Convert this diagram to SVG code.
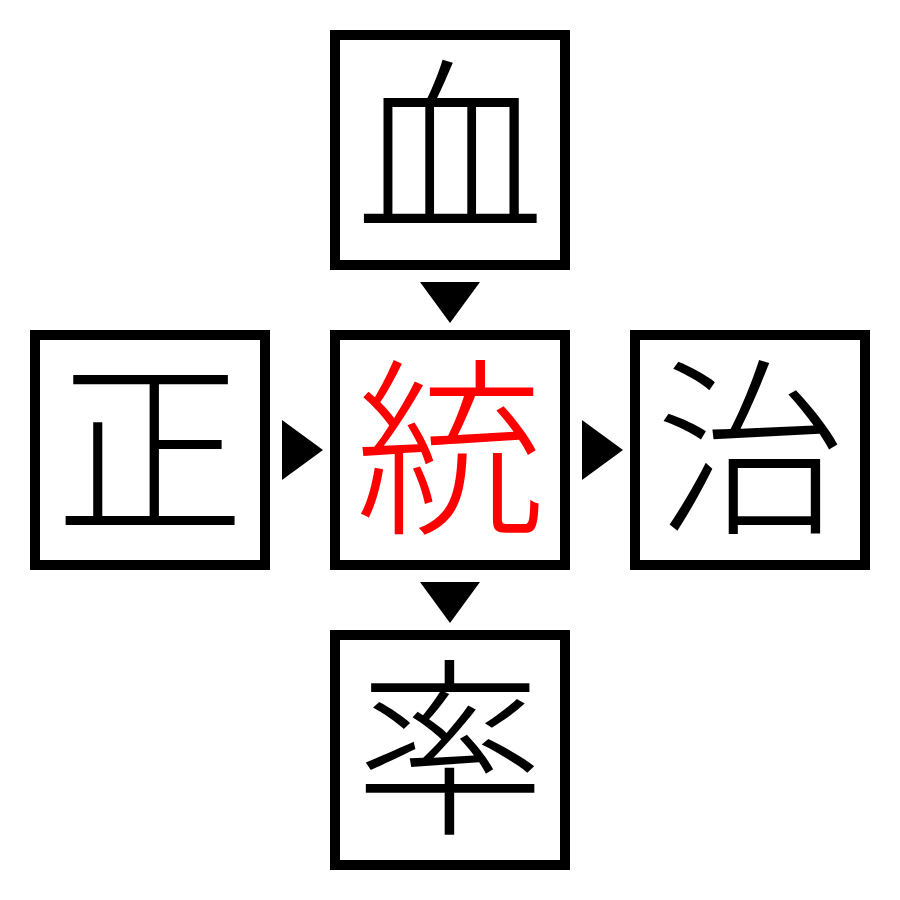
<svg xmlns="http://www.w3.org/2000/svg" width="900" height="900" viewBox="0 0 900 900">
<style>
.box{fill:#fff;stroke:#000;stroke-width:10}
.k{font-family:"Noto Sans CJK JP","Noto Sans CJK SC",serif;font-size:190px;font-weight:300;text-anchor:middle;fill:#000}
.c{fill:#ff0000}
.arr{fill:#000}
</style>
<rect width="900" height="900" fill="#fff"/>
<g id="node-top"><rect class="box" x="335" y="35" width="230" height="230"/><text class="k" x="450" y="219">血</text></g>
<g id="node-left"><rect class="box" x="35" y="335" width="230" height="230"/><text class="k" x="150" y="519">正</text></g>
<g id="node-center"><rect class="box" x="335" y="335" width="230" height="230"/><text class="k c" x="450" y="519">統</text></g>
<g id="node-right"><rect class="box" x="635" y="335" width="230" height="230"/><text class="k" x="750" y="519">治</text></g>
<g id="node-bottom"><rect class="box" x="335" y="635" width="230" height="230"/><text class="k" x="450" y="819">率</text></g>
<g id="connectors">
<polygon class="arr" points="420,282 480,282 450,323"/>
<polygon class="arr" points="282,420 282,480 323,450"/>
<polygon class="arr" points="582,420 582,480 623,450"/>
<polygon class="arr" points="420,582 480,582 450,623"/>
</g>
</svg>
